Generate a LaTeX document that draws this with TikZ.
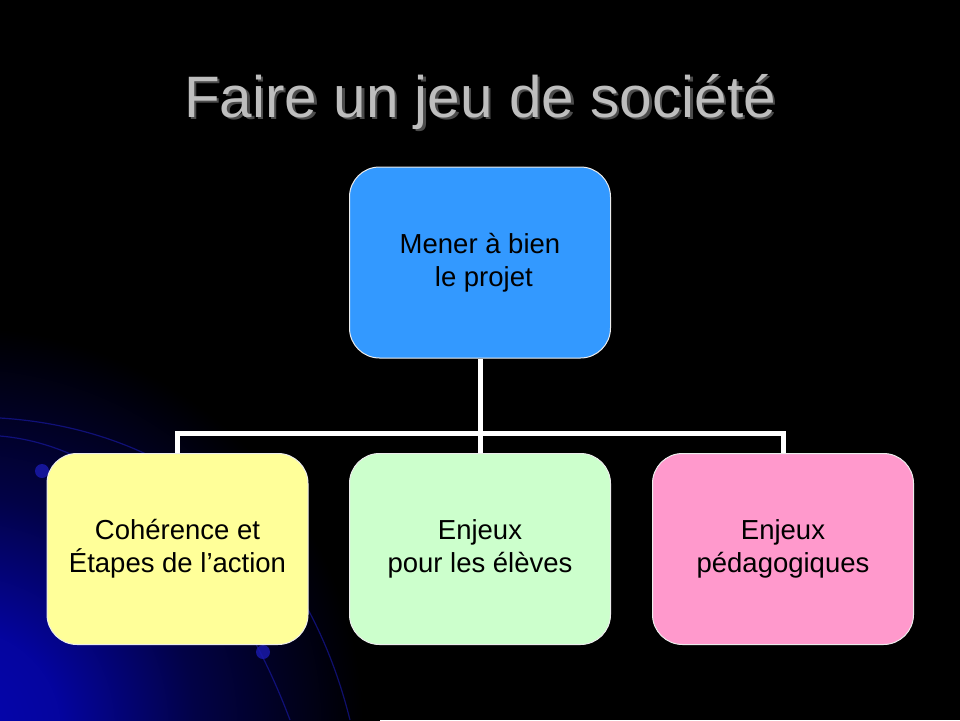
\documentclass[tikz,border=0pt]{standalone}
\usepackage{fontspec}
\setmainfont{Liberation Sans}
\usetikzlibrary{calc}
\definecolor{rootblue}{HTML}{3399FF}
\definecolor{cyellow}{HTML}{FFFF99}
\definecolor{cgreen}{HTML}{CCFFCC}
\definecolor{cpink}{HTML}{FF99CC}
\definecolor{titlegray}{HTML}{BEBEBE}
\definecolor{decoblue}{HTML}{1A1AB0}
\definecolor{glowblue}{HTML}{0505B0}
\pgfdeclareradialshading{cornerglow}{\pgfpoint{0bp}{0bp}}{%
  color(0bp)=(glowblue); color(6bp)=(glowblue!90!black);
  color(14bp)=(glowblue!40!black); color(24bp)=(black); color(50bp)=(black)}
\tikzset{
  box/.style={draw=white!85!gray, line width=1pt, rounded corners=30pt,
    minimum width=261pt, minimum height=191pt, inner sep=0pt,
    align=center, text=black, font=\fontsize{27.5}{33}\selectfont},
  link/.style={draw=white, line width=5pt},
  deco/.style={draw=decoblue, line width=1.2pt, opacity=0.6},
  decodot/.style={fill=decoblue, opacity=0.8},
  titletext/.style={font=\fontsize{58.5}{70}\selectfont, anchor=base}
}
\begin{document}
\begin{tikzpicture}[x=1pt,y=-1pt]
  \fill[black] (0,0) rectangle (960,720);
  \useasboundingbox (0,0) rectangle (960,720);
  % background decoration
  \begin{scope}
    \clip (0,0) rectangle (960,720);
    \shade[shading=cornerglow] (-40,730) circle (420);
    \draw[deco] (0,418) .. controls (160,428) and (300,520) .. (350,720);
    \draw[deco] (0,436) .. controls (120,446) and (230,560) .. (290,720);
    \fill[decodot] (42,471) circle (7);
    \fill[decodot] (263,652) circle (7);
  \end{scope}
  % title
  \node[titletext, text=black!70] (titleshadow) at (482.5,119.5) {Faire un jeu de société};
  \node[titletext, text=titlegray] (title) at (480,117) {Faire un jeu de société};
  % boxes
  \node[box, fill=rootblue] (root) at (480,262.5) {Mener à bien\\~le projet};
  \node[box, fill=cyellow] (c1) at (177.5,549) {Cohérence et\\Étapes de l’action};
  \node[box, fill=cgreen] (c2) at (480,549) {Enjeux\\pour les élèves};
  \node[box, fill=cpink] (c3) at (783,549) {Enjeux\\pédagogiques};
  % connectors
  \coordinate (bar) at (480,433);
  \draw[link] (root.south) -- (bar);
  \draw[link] (c1.north) |- (bar) -| (c3.north);
  \draw[link] (bar) -- (c2.north);
\end{tikzpicture}
\end{document}
